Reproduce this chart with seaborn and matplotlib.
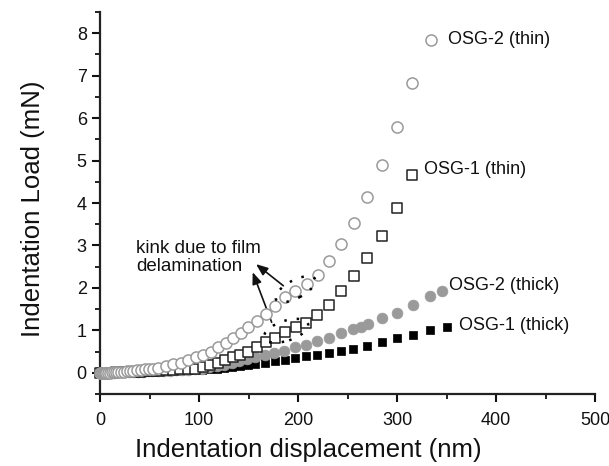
import numpy as np
import pandas as pd
import matplotlib
matplotlib.use("Agg")
import matplotlib.pyplot as plt
import matplotlib.transforms as mtrans
from matplotlib.patches import Ellipse
from matplotlib.ticker import MultipleLocator
import seaborn as sns

# ---- data ----
osg2_thin_x = [0, 1, 2, 3, 4, 5, 6, 8, 10, 12, 14, 16, 18, 21, 24, 27, 30, 33, 37, 41, 45, 49, 54, 59,
               66.7, 74, 81.5, 89.2, 97, 104.4, 111.8, 119.5, 127.3, 134.7, 142, 149.8, 158.2, 167.3,
               176.8, 187, 197, 208.8, 220, 231, 243, 256.6, 270, 284.5, 300, 315.5, 334]
osg2_thin_y = [0, 0, 0, 0, 0, 0, 0, 0.003, 0.005, 0.007, 0.01, 0.013, 0.017, 0.022, 0.028, 0.034, 0.041,
               0.048, 0.058, 0.068, 0.079, 0.09, 0.1, 0.11,
               0.15, 0.2, 0.24, 0.3, 0.36, 0.42, 0.5, 0.6, 0.7, 0.82, 0.94, 1.07, 1.21, 1.38,
               1.58, 1.78, 1.93, 2.08, 2.31, 2.64, 3.03, 3.52, 4.15, 4.9, 5.79, 6.82, 7.85]

osg1_thin_x = [0, 2, 4, 6, 8, 10, 13, 16, 20, 24, 28, 32, 36, 40, 44, 49, 54, 60, 67, 74, 81, 88.5,
               96, 103.7, 111, 118.8, 126.3, 134, 141.4, 149.8, 158.2, 167.3, 176.8, 187, 197.6, 208,
               219.5, 231, 243, 257, 270, 285, 300, 315.5]
osg1_thin_y = [0, 0, 0, 0, 0.002, 0.004, 0.006, 0.008, 0.011, 0.014, 0.018, 0.022, 0.026, 0.03, 0.035,
               0.04, 0.046, 0.053, 0.062, 0.072, 0.083, 0.092,
               0.1, 0.14, 0.19, 0.24, 0.3, 0.36, 0.42, 0.5, 0.6, 0.73, 0.83, 0.97, 1.07, 1.18,
               1.37, 1.6, 1.93, 2.27, 2.7, 3.23, 3.88, 4.66]

osg2_thick_x = [0, 2, 4, 6, 8, 11, 14, 17, 21, 25, 29, 33, 38, 43, 48, 53, 59, 65, 71, 77, 83, 89, 96,
                102.7, 110.4, 117.8, 125, 133, 140.7, 148.8, 157, 166.7, 176, 186, 197, 208, 219.5,
                231, 243, 256, 263.6, 271, 285, 300, 316, 333, 345]
osg2_thick_y = [0, 0, 0, 0, 0.002, 0.004, 0.006, 0.008, 0.011, 0.014, 0.017, 0.02, 0.024, 0.028, 0.032,
                0.036, 0.041, 0.047, 0.053, 0.059, 0.065, 0.072, 0.08,
                0.09, 0.13, 0.15, 0.19, 0.23, 0.27, 0.32, 0.38, 0.42, 0.47, 0.52, 0.6, 0.66, 0.74,
                0.83, 0.93, 1.03, 1.08, 1.15, 1.29, 1.42, 1.6, 1.82, 1.92]

osg1_thick_x = [0, 2, 4, 6, 9, 12, 15, 18, 22, 26, 30, 34, 39, 44, 49, 54, 60, 67, 74, 81, 88, 95,
                103, 110, 118, 125, 133, 141, 149, 157, 167, 177, 186.5, 197, 208, 219.5, 231, 243,
                256, 270, 285, 300, 316, 333, 350]
osg1_thick_y = [0, 0, 0, 0, 0.002, 0.003, 0.005, 0.007, 0.009, 0.011, 0.013, 0.015, 0.018, 0.021,
                0.024, 0.027, 0.031, 0.036, 0.042, 0.048, 0.055, 0.062,
                0.07, 0.08, 0.1, 0.12, 0.14, 0.16, 0.18, 0.2, 0.24, 0.27, 0.3, 0.35, 0.39, 0.42, 0.46,
                0.52, 0.57, 0.64, 0.72, 0.81, 0.9, 1.01, 1.08]

labels = ["OSG-2 (thin)", "OSG-1 (thin)", "OSG-2 (thick)", "OSG-1 (thick)"]
annotation_text = "kink due to film\ndelamination"
x_label = "Indentation displacement (nm)"
y_label = "Indentation Load (mN)"

# ---- style ----
sns.set_style("ticks")
plt.rcParams['font.family'] = ['Liberation Sans', 'DejaVu Sans']
GREY = "#9a9a9a"
INK = "#111111"

fig = plt.figure(figsize=(6.09, 4.66), dpi=100)
ax = fig.add_axes([100 / 609, 1 - 394 / 466, 495 / 609, 382 / 466])

def frame(x, y):
    return pd.DataFrame({"x": x, "y": y})

sns.scatterplot(data=frame(osg1_thick_x, osg1_thick_y), x="x", y="y", ax=ax, marker="s",
                s=38, color="black", edgecolor="black", linewidth=0.5, clip_on=False, zorder=3)
sns.scatterplot(data=frame(osg2_thick_x, osg2_thick_y), x="x", y="y", ax=ax, marker="o",
                s=60, color=GREY, edgecolor=GREY, linewidth=0.5, clip_on=False, zorder=3)
sns.scatterplot(data=frame(osg1_thin_x, osg1_thin_y), x="x", y="y", ax=ax, marker="s",
                s=46, facecolor="white", edgecolor="#222222", linewidth=1.1, clip_on=False, zorder=4)
sns.scatterplot(data=frame(osg2_thin_x, osg2_thin_y), x="x", y="y", ax=ax, marker="o",
                s=64, facecolor="white", edgecolor=GREY, linewidth=1.1, clip_on=False, zorder=5)

ax.set_xlim(0, 500)
ax.set_ylim(-0.5, 8.5)
ax.xaxis.set_major_locator(MultipleLocator(100))
ax.xaxis.set_minor_locator(MultipleLocator(50))
ax.yaxis.set_major_locator(MultipleLocator(1))
ax.yaxis.set_minor_locator(MultipleLocator(0.5))
ax.set_yticks(range(0, 9))
ax.tick_params(which="major", direction="out", length=6, width=1.5, labelsize=13,
               colors=INK)
ax.tick_params(axis="x", which="major", pad=7)
ax.tick_params(which="minor", direction="out", length=3.5, width=1.3, colors=INK)
for side in ["top", "right"]:
    ax.spines[side].set_visible(False)
for side in ["left", "bottom"]:
    ax.spines[side].set_linewidth(1.6)
    ax.spines[side].set_color("#222222")

ax.set_xlabel(x_label, fontsize=18.5, color=INK)
ax.set_ylabel(y_label, fontsize=18.5, color=INK)
ax.xaxis.set_label_coords(0.42, -0.115)
ax.yaxis.set_label_coords(-0.112, 0.484)

# series labels
ax.text(351.5, 7.85, labels[0], fontsize=13, va="center", ha="left", color=INK)
ax.text(327, 4.79, labels[1], fontsize=13, va="center", ha="left", color=INK)
ax.text(352.5, 2.05, labels[2], fontsize=13, va="center", ha="left", color=INK)
ax.text(362.6, 1.11, labels[3], fontsize=13, va="center", ha="left", color=INK)

# annotation
ax.text(36.4, 3.13, annotation_text, fontsize=13.5, va="top", ha="left", linespacing=1.05,
        color=INK)
arrowprops = dict(arrowstyle="-|>,head_length=0.5,head_width=0.2", color=INK, lw=1.2,
                  mutation_scale=14, shrinkA=0, shrinkB=0)
ax.annotate("", xy=(157.6, 2.56), xytext=(185.2, 2.05), arrowprops=arrowprops)
ax.annotate("", xy=(154.2, 2.37), xytext=(173.4, 1.19), arrowprops=arrowprops)

# dotted ellipses around the kinks
for cx, cy, w, h, ang in [(197.5, 1.97, 0.44, 0.18, 28), (188, 0.99, 0.46, 0.2, 18)]:
    tr = fig.dpi_scale_trans + mtrans.ScaledTranslation(cx, cy, ax.transData)
    e = Ellipse((0, 0), w, h, angle=ang, fill=False, edgecolor="black",
                linestyle=(0, (1, 4)), linewidth=1.8, transform=tr, zorder=6)
    ax.add_patch(e)

fig.savefig("out.png", dpi=100)
